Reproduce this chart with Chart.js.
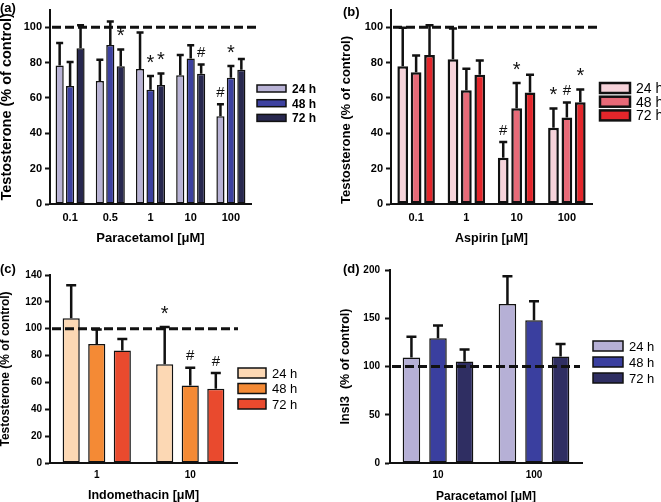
<!DOCTYPE html>
<html>
<head>
<meta charset="utf-8">
<script src="https://cdn.jsdelivr.net/npm/chart.js@4.4.1/dist/chart.umd.min.js"></script>
<style>
  body { margin: 0; background: #fff; width: 661px; height: 502px; position: relative; overflow: hidden; }
  canvas { position: absolute; }
</style>
</head>
<body>
<canvas id="pa" width="330" height="250" style="left:0;top:0"></canvas>
<canvas id="pb" width="331" height="250" style="left:330px;top:0"></canvas>
<canvas id="pc" width="330" height="252" style="left:0;top:250px"></canvas>
<canvas id="pd" width="331" height="252" style="left:330px;top:250px"></canvas>
<script>
const timeLabels = ['24 h', '48 h', '72 h'];

// (a) paracetamol -> testosterone
const paraLabels = ['0.1', '0.5', '1', '10', '100'];
const paraT24 = [78.3, 69.6, 76.4, 72.8, 49.6];
const paraT24Err = [13.5, 12.8, 21.4, 12.2, 7.5];
const paraT48 = [66.8, 90.0, 64.7, 82.4, 71.4];
const paraT48Err = [14.2, 14.0, 8.5, 8.2, 7.4];
const paraT72 = [88.2, 77.9, 67.4, 73.7, 75.9];
const paraT72Err = [13.6, 10.3, 7.2, 6.0, 6.9];
const paraT24Sig = ['', '', '', '', '#'];
const paraT48Sig = ['', '', '*', '', '*'];
const paraT72Sig = ['', '*', '*', '#', ''];

// (b) aspirin -> testosterone
const aspLabels = ['0.1', '1', '10', '100'];
const aspT24 = [77.9, 81.9, 26.2, 43.2];
const aspT24Err = [22.6, 18.1, 9.6, 11.6];
const aspT48 = [74.5, 64.4, 54.2, 48.9];
const aspT48Err = [10.2, 12.9, 15.0, 9.2];
const aspT72 = [84.3, 73.2, 63.1, 57.6];
const aspT72Err = [17.5, 8.7, 10.7, 7.9];
const aspT24Sig = ['', '', '#', '*'];
const aspT48Sig = ['', '', '*', '#'];
const aspT72Sig = ['', '', '', '*'];

// (c) indomethacin -> testosterone
const indoLabels = ['1', '10'];
const indoT24 = [107.8, 73.6];
const indoT24Err = [25.5, 28.7];
const indoT48 = [88.7, 57.7];
const indoT48Err = [11.6, 14.2];
const indoT72 = [83.7, 55.3];
const indoT72Err = [9.5, 12.6];
const indoT24Sig = ['', '*'];
const indoT48Sig = ['', '#'];
const indoT72Sig = ['', '#'];

// (d) paracetamol -> Insl3
const inslLabels = ['10', '100'];
const insl24 = [109.3, 164.8];
const insl24Err = [22.7, 30.0];
const insl48 = [129.3, 148.0];
const insl48Err = [14.5, 21.0];
const insl72 = [105.2, 110.3];
const insl72Err = [13.8, 14.2];

Chart.defaults.font.family = '"Liberation Sans", Arial, sans-serif';
Chart.defaults.color = '#000';

function panel(id, cfg) {
  // error bars, control line, significance marks, legend, panel tag
  const extras = {
    id: 'extras',
    beforeDatasetsDraw(chart) {
      const ctx = chart.ctx, y = chart.scales.y;
      ctx.save();
      ctx.strokeStyle = '#111';
      ctx.lineWidth = 2.5;
      cfg.series.forEach((s, i) => {
        chart.getDatasetMeta(i).data.forEach((bar, j) => {
          const top = y.getPixelForValue(s[j] + cfg.errors[i][j]);
          ctx.beginPath();
          ctx.moveTo(bar.x, bar.y);
          ctx.lineTo(bar.x, top);
          ctx.moveTo(bar.x - cfg.cap / 2, top + 1.25);
          ctx.lineTo(bar.x + cfg.cap / 2, top + 1.25);
          ctx.stroke();
        });
      });
      ctx.restore();
    },
    afterDatasetsDraw(chart) {
      const ctx = chart.ctx, y = chart.scales.y, area = chart.chartArea;
      ctx.save();
      // 100% = control
      const y100 = y.getPixelForValue(100);
      ctx.strokeStyle = '#111';
      ctx.lineWidth = 3;
      ctx.setLineDash([9, 4]);
      ctx.beginPath();
      ctx.moveTo(area.left + 2, y100);
      ctx.lineTo(area.right + cfg.dashExtra, y100);
      ctx.stroke();
      ctx.setLineDash([]);

      ctx.fillStyle = '#111';
      ctx.textAlign = 'center';
      ctx.textBaseline = 'alphabetic';
      (cfg.sig || []).forEach((marks, i) => {
        chart.getDatasetMeta(i).data.forEach((bar, j) => {
          const m = marks[j];
          if (!m) return;
          const top = y.getPixelForValue(cfg.series[i][j] + cfg.errors[i][j]);
          ctx.font = m === '*' ? '20px "Liberation Sans", Arial' : '15px "Liberation Sans", Arial';
          ctx.fillText(m, bar.x, top - 6);
        });
      });

      const lg = cfg.legend;
      ctx.textAlign = 'left';
      ctx.textBaseline = 'middle';
      ctx.font = lg.font;
      timeLabels.forEach((t, i) => {
        const by = lg.y + i * lg.step;
        ctx.fillStyle = cfg.colors[i];
        ctx.fillRect(lg.x, by, lg.w, lg.h);
        ctx.lineWidth = lg.border;
        ctx.strokeStyle = '#111';
        ctx.strokeRect(lg.x, by, lg.w, lg.h);
        ctx.fillStyle = '#000';
        ctx.fillText(t, lg.x + lg.w + 6, by + lg.h / 2 + 1);
      });

      ctx.font = 'bold 13px "Liberation Sans", Arial';
      ctx.fillText(cfg.tag, cfg.tagX, cfg.tagY);
      ctx.restore();
    }
  };

  return new Chart(document.getElementById(id), {
    type: 'bar',
    data: {
      labels: cfg.labels,
      datasets: cfg.series.map((s, i) => ({
        label: timeLabels[i],
        data: s,
        backgroundColor: cfg.colors[i],
        borderColor: '#111',
        borderWidth: cfg.border,
        borderSkipped: false,
        categoryPercentage: cfg.catPct,
        barPercentage: cfg.barPct
      }))
    },
    options: {
      responsive: false,
      animation: false,
      devicePixelRatio: 1,
      layout: { padding: cfg.pad },
      plugins: { legend: { display: false }, tooltip: { enabled: false } },
      scales: {
        x: {
          offset: true,
          grid: { display: false, drawTicks: false },
          border: { display: true, color: '#111', width: 2 },
          ticks: { padding: cfg.xTickPad, font: { size: cfg.tickSize, weight: 'bold' } },
          title: { display: true, text: cfg.xTitle, padding: { top: 0, bottom: cfg.xTitlePad },
                   font: { size: cfg.xTitleSize, weight: 'bold', lineHeight: 1 } },
          afterFit: (s) => { s.height = cfg.xHeight; }
        },
        y: {
          min: 0,
          max: cfg.yMax,
          grid: { drawOnChartArea: false, drawTicks: true, tickLength: 5, tickWidth: 2, tickColor: '#111' },
          border: { display: true, color: '#111', width: 2 },
          ticks: { stepSize: cfg.yStep, includeBounds: false, padding: cfg.yTickPad,
                   font: { size: cfg.tickSize, weight: 'bold' } },
          title: { display: true, text: cfg.yTitle, align: cfg.yTitleAlign || 'center',
                   padding: { top: cfg.yTitlePad, bottom: 0 },
                   font: { size: cfg.yTitleSize, weight: 'bold', lineHeight: 1 } },
          afterFit: (s) => { s.width = cfg.yWidth; }
        }
      }
    },
    plugins: [extras]
  });
}

panel('pa', {
  labels: paraLabels,
  series: [paraT24, paraT48, paraT72],
  errors: [paraT24Err, paraT48Err, paraT72Err],
  sig: [paraT24Sig, paraT48Sig, paraT72Sig],
  colors: ['#b9b3d6', '#3d41a0', '#28284f'],
  border: 1.5, catPct: 0.78, barPct: 0.78, cap: 7, dashExtra: 7,
  pad: { left: 0, top: 2, right: 79, bottom: 0 },
  yWidth: 50, xHeight: 46, yMax: 110, yStep: 20,
  tickSize: 11, xTickPad: 7.5, yTickPad: 3,
  xTitle: 'Paracetamol [μM]', xTitleSize: 13, xTitlePad: 5,
  yTitle: 'Testosterone (% of control)', yTitleSize: 14.5, yTitlePad: 0,
  legend: { x: 257, y: 85, w: 29, h: 7, step: 14.7, border: 1.5, font: 'bold 12px "Liberation Sans", Arial' },
  tag: '(a)', tagX: 0, tagY: 8
});

panel('pb', {
  labels: aspLabels,
  series: [aspT24, aspT48, aspT72],
  errors: [aspT24Err, aspT48Err, aspT72Err],
  sig: [aspT24Sig, aspT48Sig, aspT72Sig],
  colors: ['#f6d3da', '#e86a78', '#e3262b'],
  border: 2.5, catPct: 0.8, barPct: 0.8, cap: 8, dashExtra: 5,
  pad: { left: 0, top: 3, right: 69, bottom: 0 },
  yWidth: 61, xHeight: 46, yMax: 110, yStep: 20,
  tickSize: 11, xTickPad: 7.5, yTickPad: 3,
  xTitle: 'Aspirin [μM]', xTitleSize: 12.5, xTitlePad: 5,
  yTitle: 'Testosterone (% of control)', yTitleSize: 13, yTitlePad: 9.5, yTitleAlign: 'start',
  legend: { x: 270, y: 83, w: 30, h: 10, step: 13.7, border: 2.5, font: '14px "Liberation Sans", Arial' },
  tag: '(b)', tagX: 13, tagY: 12
});

panel('pc', {
  labels: indoLabels,
  series: [indoT24, indoT48, indoT72],
  errors: [indoT24Err, indoT48Err, indoT72Err],
  sig: [indoT24Sig, indoT48Sig, indoT72Sig],
  colors: ['#fcd8b4', '#f48a35', '#e94a2e'],
  border: 1.5, catPct: 0.82, barPct: 0.67, cap: 10, dashExtra: 1,
  pad: { left: 0, top: 25, right: 93, bottom: 0 },
  yWidth: 50, xHeight: 39, yMax: 140, yStep: 20,
  tickSize: 10, xTickPad: 6, yTickPad: 3,
  xTitle: 'Indomethacin [μM]', xTitleSize: 12.5, xTitlePad: 0.5,
  yTitle: 'Testosterone (% of control)', yTitleSize: 12, yTitlePad: 0,
  legend: { x: 238, y: 118, w: 28, h: 10, step: 15.5, border: 1.5, font: '13px "Liberation Sans", Arial' },
  tag: '(c)', tagX: 0, tagY: 19
});

panel('pd', {
  labels: inslLabels,
  series: [insl24, insl48, insl72],
  errors: [insl24Err, insl48Err, insl72Err],
  colors: ['#b6b0d6', '#3a3f9f', '#2f2e62'],
  border: 1.5, catPct: 0.83, barPct: 0.66, cap: 10, dashExtra: -2,
  pad: { left: 0, top: 20, right: 79, bottom: 0 },
  yWidth: 60, xHeight: 39, yMax: 200, yStep: 50,
  tickSize: 10, xTickPad: 6, yTickPad: 5,
  xTitle: 'Paracetamol [μM]', xTitleSize: 12, xTitlePad: -1,
  yTitle: 'Insl3  (% of control)', yTitleSize: 12.5, yTitlePad: 9,
  legend: { x: 263, y: 91, w: 30, h: 10, step: 16, border: 1.5, font: '13px "Liberation Sans", Arial' },
  tag: '(d)', tagX: 13, tagY: 19
});
</script>
</body>
</html>
